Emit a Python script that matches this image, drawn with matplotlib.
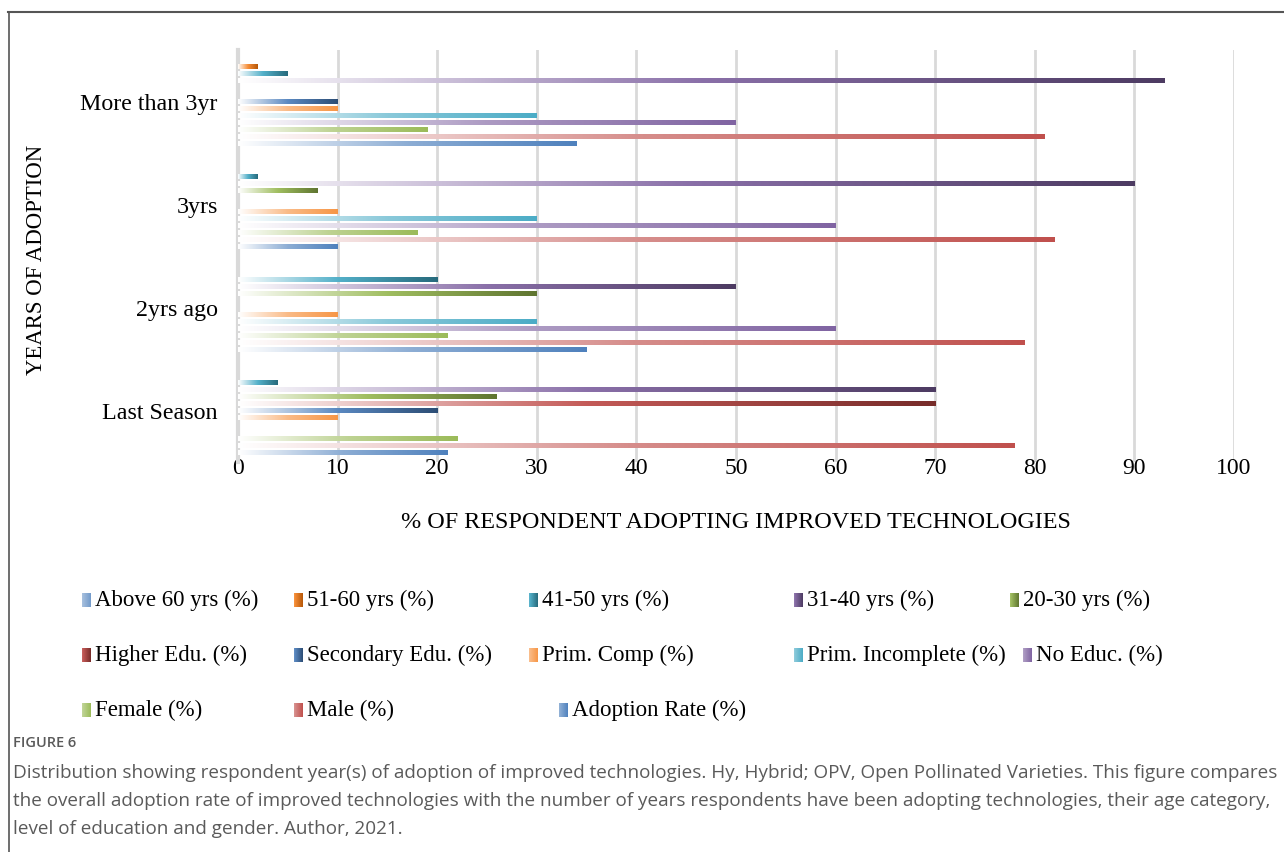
"""
Years of adoption of improved technologies, broken down by age,
education and gender of respondents (horizontal grouped bars).
"""

import colorsys
import numpy as np
import matplotlib
matplotlib.use('Agg')
import matplotlib.pyplot as plt
from matplotlib.colors import to_rgb

periods = ["Last Season", "2yrs ago", "3yrs", "More than 3yr"]

# series names, bottom bar of each group first
series = ["Adoption Rate (%)", "Male (%)", "Female (%)", "No Educ. (%)",
          "Prim. Incomplete (%)", "Prim. Comp (%)", "Secondary Edu. (%)",
          "Higher Edu. (%)", "20-30 yrs (%)", "31-40 yrs (%)",
          "41-50 yrs (%)", "51-60 yrs (%)", "Above 60 yrs (%)"]

# values per period: Last Season, 2yrs ago, 3yrs, More than 3yr
adoption_rate = [21, 35, 10, 34]
male = [78, 79, 82, 81]
female = [22, 21, 18, 19]
no_educ = [0, 60, 60, 50]
prim_incomplete = [0, 30, 30, 30]
prim_comp = [10, 10, 10, 10]
secondary_edu = [20, 0, 0, 10]
higher_edu = [70, 0, 0, 0]
age_20_30 = [26, 30, 8, 0]
age_31_40 = [70, 50, 90, 93]
age_41_50 = [4, 20, 2, 5]
age_51_60 = [0, 0, 0, 2]
above_60 = [0, 0, 0, 0]

values = [adoption_rate, male, female, no_educ, prim_incomplete, prim_comp,
          secondary_edu, higher_edu, age_20_30, age_31_40, age_41_50,
          age_51_60, above_60]

colors = ["#4F81BD", "#C0504D", "#9BBB59", "#8064A2", "#4BACC6", "#F79646",
          "#2C4D75", "#772C2A", "#5F7530", "#4D3B62", "#276A7C", "#B65708",
          "#729ACA"]

caption_lines = [
    "Distribution showing respondent year(s) of adoption of improved technologies. "
    "Hy, Hybrid; OPV, Open Pollinated Varieties. This figure compares",
    "the overall adoption rate of improved technologies with the number of years "
    "respondents have been adopting technologies, their age category,",
    "level of education and gender. Author, 2021.",
]

SERIF = "Liberation Serif"
W, H = 1284, 852


def lighter(color, amount):
    h, l, s = colorsys.rgb_to_hls(*to_rgb(color))
    return np.array(colorsys.hls_to_rgb(h, l + (1 - l) * amount, s))


def gradient_colors(color, start=0.0, n=256):
    # white -> light tint -> full colour, left to right
    stops = np.array([0.0, 0.5, 1.0])
    cols = np.array([np.ones(3), lighter(color, 0.35), np.array(to_rgb(color))])
    t = np.linspace(start, 1.0, n)
    return np.stack([np.interp(t, stops, cols[:, c]) for c in range(3)], axis=1)


def draw_gradient_rect(ax, x0, x1, y0, y1, color, start=0.0, zorder=3):
    img = gradient_colors(color, start)
    ax.imshow(img[None, :, :], extent=(x0, x1, y0, y1), aspect='auto',
              interpolation='bilinear', zorder=zorder)


fig = plt.figure(figsize=(W / 100, H / 100), dpi=100)
fig.patch.set_facecolor("white")

ax = fig.add_axes([238 / W, 1 - 462 / H, (1234 - 238) / W, (462 - 50) / H])

slot = 7 / 103
bar_h = 4.6 / 103
n = len(series)
for i, (vals, col) in enumerate(zip(values, colors)):
    offset = (i - (n - 1) / 2) * slot
    for j, v in enumerate(vals):
        if v > 0:
            y = j + offset
            draw_gradient_rect(ax, 0, v, y - bar_h / 2, y + bar_h / 2, col)

ax.set_xlim(0, 100)
ax.set_ylim(-0.5, len(periods) - 0.5)
ax.set_xticks(np.arange(0, 101, 10))
ax.set_yticks(range(len(periods)))
ax.set_yticklabels(periods, fontsize=17.3, family=SERIF)
for lab in ax.get_xticklabels():
    lab.set_fontsize(17)
    lab.set_family(SERIF)
ax.tick_params(axis='both', length=0, colors="black")
ax.tick_params(axis='y', pad=14.5)
ax.tick_params(axis='x', pad=-3)
ax.grid(axis='x', color="#D9D9D9", linewidth=2, zorder=1)
ax.set_axisbelow(True)
for side in ["top", "right", "bottom"]:
    ax.spines[side].set_visible(False)
ax.spines["left"].set_color("#D9D9D9")
ax.spines["left"].set_linewidth(3)

# overlay in pixel coordinates for labels, legend, caption and frame
ov = fig.add_axes([0, 0, 1, 1], zorder=-1)
ov.axis("off")

ov.text(736, 523, "% OF RESPONDENT ADOPTING IMPROVED TECHNOLOGIES",
        ha="center", va="center", fontsize=17.4, family=SERIF)
ov.text(37, 260, "YEARS OF ADOPTION", rotation=90, ha="center", va="center",
        fontsize=16.4, family=SERIF)

# legend, laid out in three rows (series listed top-down)
legend_pos = {
    "Above 60 yrs (%)": (82, 600), "51-60 yrs (%)": (294, 600),
    "41-50 yrs (%)": (529, 600), "31-40 yrs (%)": (794, 600),
    "20-30 yrs (%)": (1010, 600),
    "Higher Edu. (%)": (82, 655), "Secondary Edu. (%)": (294, 655),
    "Prim. Comp (%)": (529, 655), "Prim. Incomplete (%)": (794, 655),
    "No Educ. (%)": (1023, 655),
    "Female (%)": (82, 710), "Male (%)": (294, 710),
    "Adoption Rate (%)": (559, 710),
}
for name, col in zip(series, colors):
    x, y = legend_pos[name]
    draw_gradient_rect(ov, x, x + 9, y + 7, y - 7, col, start=0.45, zorder=2)
    ov.text(x + 13, y, name, ha="left", va="center", fontsize=16.5,
            family=SERIF)
ov.set_xlim(0, W)
ov.set_ylim(H, 0)

# frame lines
ov.plot([8, W], [12, 12], color="#555555", linewidth=1.5)
ov.plot([9, 9], [12, H], color="#555555", linewidth=1.2)

ov.text(13, 743, "FIGURE 6", ha="left", va="center", fontsize=10.5,
        family="Open Sans", fontweight="semibold", color="#5A5A5A")
for k, line in enumerate(caption_lines):
    ov.text(13, 773 + 28 * k, line, ha="left", va="center", fontsize=13.6,
            family="Open Sans", color="#5A5A5A")

fig.savefig("out.png", dpi=100, facecolor="white")
